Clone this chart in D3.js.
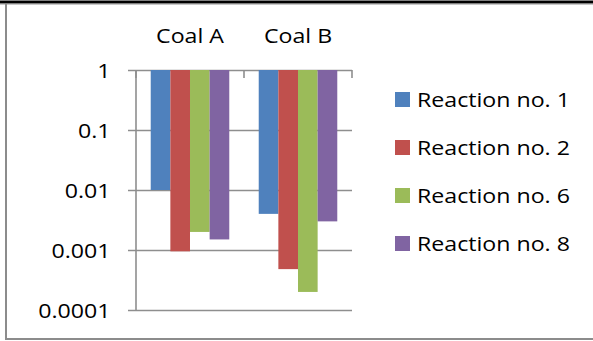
<!DOCTYPE html>
<html>
<head>
<meta charset="utf-8">
<script src="https://cdn.jsdelivr.net/npm/d3@7"></script>
<style>
  html, body { margin: 0; padding: 0; background: #fff; }
  svg { display: block; }
</style>
</head>
<body>
<svg id="chart" width="593" height="341"></svg>
<script>
const categories = ["Coal A", "Coal B"];
const seriesNames = ["Reaction no. 1", "Reaction no. 2", "Reaction no. 6", "Reaction no. 8"];
const reaction1 = [0.01, 0.004];
const reaction2 = [0.00095, 0.00048];
const reaction6 = [0.002, 0.0002];
const reaction8 = [0.0015, 0.003];
const seriesColors = ["#4F81BD", "#C0504D", "#9BBB59", "#8064A2"];
const yTicks = [1, 0.1, 0.01, 0.001, 0.0001];
const yTickLabels = ["1", "0.1", "0.01", "0.001", "0.0001"];

const seriesValues = [reaction1, reaction2, reaction6, reaction8];
const FONT = "Open Sans, Lato, sans-serif";
const FONT_SIZE = 20.5;
const SX = 1.13; // horizontal stretch applied to all labels

const svg = d3.select("#chart");
const plot = { left: 136, right: 352, top: 70, bottom: 310 };

const y = d3.scaleLog().domain([0.0001, 1]).range([plot.bottom, plot.top]);
const x = d3.scaleBand().domain(categories).range([plot.left, plot.right]).paddingInner(0).paddingOuter(0);
const xs = d3.scaleBand().domain(seriesNames).range([0, x.bandwidth()]).paddingInner(0).paddingOuter(0.75);

// frame
svg.append("line").attr("x1", 0).attr("x2", 593).attr("y1", 2).attr("y2", 2).attr("stroke", "#000").attr("stroke-width", 3);
svg.append("line").attr("x1", 0).attr("x2", 593).attr("y1", 4.5).attr("y2", 4.5).attr("stroke", "#c8c8c8").attr("stroke-width", 1);
svg.append("line").attr("x1", 6).attr("x2", 6).attr("y1", 4).attr("y2", 340).attr("stroke", "#8c8c8c").attr("stroke-width", 2);
svg.append("line").attr("x1", 6).attr("x2", 593).attr("y1", 339).attr("y2", 339).attr("stroke", "#8c8c8c").attr("stroke-width", 2);

// y axis with gridlines
const yAxis = d3.axisLeft(y).tickValues(yTicks).tickFormat((d, i) => yTickLabels[i]).tickSize(0).tickPadding(0);
const gy = svg.append("g").attr("transform", `translate(${plot.left},0)`).call(yAxis);
gy.select(".domain").remove();
gy.selectAll(".tick line")
  .attr("x1", -8).attr("x2", plot.right - plot.left)
  .attr("stroke", "#8e8e8e").attr("stroke-width", 1.6);
gy.selectAll(".tick text")
  .attr("x", -25.5 / SX).attr("dy", "0.35em")
  .attr("transform", `scale(${SX},1)`)
  .attr("font-family", FONT).attr("font-size", FONT_SIZE).attr("fill", "#000");

// bars hanging down from 1
const groups = svg.append("g").selectAll("g")
  .data(categories).join("g")
  .attr("transform", d => `translate(${x(d)},0)`);
groups.selectAll("rect")
  .data((c, ci) => seriesNames.map((s, si) => ({ s, si, v: seriesValues[si][ci] })))
  .join("rect")
  .attr("x", d => xs(d.s))
  .attr("width", xs.bandwidth())
  .attr("y", y(1))
  .attr("height", d => y(d.v) - y(1))
  .attr("fill", d => seriesColors[d.si]);

// category axis along the top (value 1)
svg.append("line").attr("x1", plot.left).attr("x2", plot.left).attr("y1", plot.top).attr("y2", plot.bottom)
  .attr("stroke", "#8e8e8e").attr("stroke-width", 1.6);
const catEdges = categories.map(c => x(c)).concat([plot.right]);
svg.append("g").selectAll("line").data(catEdges).join("line")
  .attr("x1", d => d).attr("x2", d => d).attr("y1", plot.top).attr("y2", plot.top + 8)
  .attr("stroke", "#8e8e8e").attr("stroke-width", 1.6);
svg.append("g").selectAll("text").data(categories).join("text")
  .attr("transform", d => `translate(${x(d) + x.bandwidth() / 2},43) scale(${SX},1)`)
  .attr("text-anchor", "middle")
  .attr("font-family", FONT).attr("font-size", FONT_SIZE).attr("fill", "#000")
  .text(d => d);

// legend
const legend = svg.append("g").attr("transform", "translate(395,92)");
const items = legend.selectAll("g").data(seriesNames).join("g")
  .attr("transform", (d, i) => `translate(0,${i * 48})`);
items.append("rect").attr("width", 15).attr("height", 15).attr("fill", (d, i) => seriesColors[i]);
items.append("text")
  .attr("transform", `translate(22,15) scale(${SX},1)`)
  .attr("font-family", FONT).attr("font-size", FONT_SIZE).attr("fill", "#000")
  .text(d => d);
</script>
</body>
</html>
